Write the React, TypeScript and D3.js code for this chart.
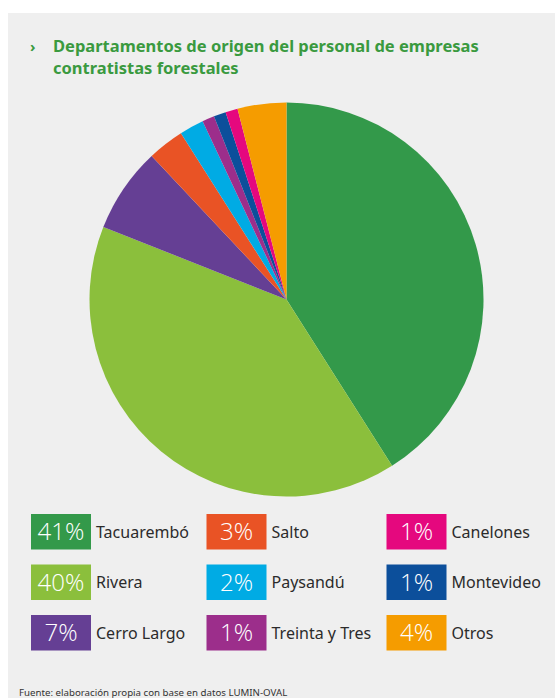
import * as d3 from "d3";

const departments = [
  "Tacuarembó",
  "Rivera",
  "Cerro Largo",
  "Salto",
  "Paysandú",
  "Treinta y Tres",
  "Montevideo",
  "Canelones",
  "Otros",
];
const shares = [41, 40, 7, 3, 2, 1, 1, 1, 4];
const colors = [
  "#33994a",
  "#8bbf3c",
  "#653f94",
  "#e95325",
  "#00abe4",
  "#9c2e8b",
  "#0c4f9b",
  "#e5087e",
  "#f59c00",
];
// legend reads column by column
const legendOrder = [
  "Tacuarembó",
  "Rivera",
  "Cerro Largo",
  "Salto",
  "Paysandú",
  "Treinta y Tres",
  "Canelones",
  "Montevideo",
  "Otros",
];

const W = 555;
const H = 698;

export default function App() {
  const rows = departments.map((name, i) => ({ name, value: shares[i], color: colors[i] }));

  const pie = d3
    .pie<(typeof rows)[number]>()
    .sort(null)
    .value((d) => d.value)
    .startAngle(0)
    .endAngle(2 * Math.PI);
  const arcs = pie(rows);
  const arc = d3.arc<d3.PieArcDatum<(typeof rows)[number]>>().innerRadius(0).outerRadius(197);

  const cx = 286.5;
  const cy = 299.5;

  const colX = [31, 206.5, 386.5];
  const rowY = [514, 564.5, 615];
  const boxW = 60;
  const boxH = 35.5;

  return (
    <svg
      width={W}
      height={H}
      style={{ position: "fixed", left: 0, top: 0 }}
      fontFamily="'Noto Sans', sans-serif"
    >
      <rect x={0} y={0} width={W} height={H} fill="#ffffff" />
      <rect x={8} y={13} width={W - 8} height={H - 13} fill="#efefef" />

      <g fill="#3a9a3f" fontWeight={700} fontSize={16.5}>
        <text x={30} y={52} fontSize={15}>›</text>
        <text x={53} y={52}>Departamentos de origen del personal de empresas</text>
        <text x={53} y={73.5}>contratistas forestales</text>
      </g>

      <g transform={`translate(${cx},${cy})`}>
        {arcs.map((a) => (
          <path key={a.data.name} d={arc(a) ?? ""} fill={a.data.color} />
        ))}
      </g>

      <g>
        {legendOrder.map((name, k) => {
          const i = departments.indexOf(name);
          const x = colX[Math.floor(k / 3)];
          const y = rowY[k % 3];
          return (
            <g key={name} transform={`translate(${x},${y})`}>
              <rect width={boxW} height={boxH} fill={colors[i]} />
              <text
                x={boxW / 2}
                y={boxH / 2 + 8.5}
                textAnchor="middle"
                fill="#ffffff"
                fontSize={24}
                fontWeight={300}
                fontFamily="'Open Sans', sans-serif"
              >
                {shares[i]}%
              </text>
              <text x={boxW + 5} y={boxH / 2 + 6} fill="#2b2b2b" fontSize={16}>
                {name}
              </text>
            </g>
          );
        })}
      </g>

      <text x={19} y={696} fill="#333333" fontSize={9.7}>
        Fuente: elaboración propia con base en datos LUMIN-OVAL
      </text>
    </svg>
  );
}
